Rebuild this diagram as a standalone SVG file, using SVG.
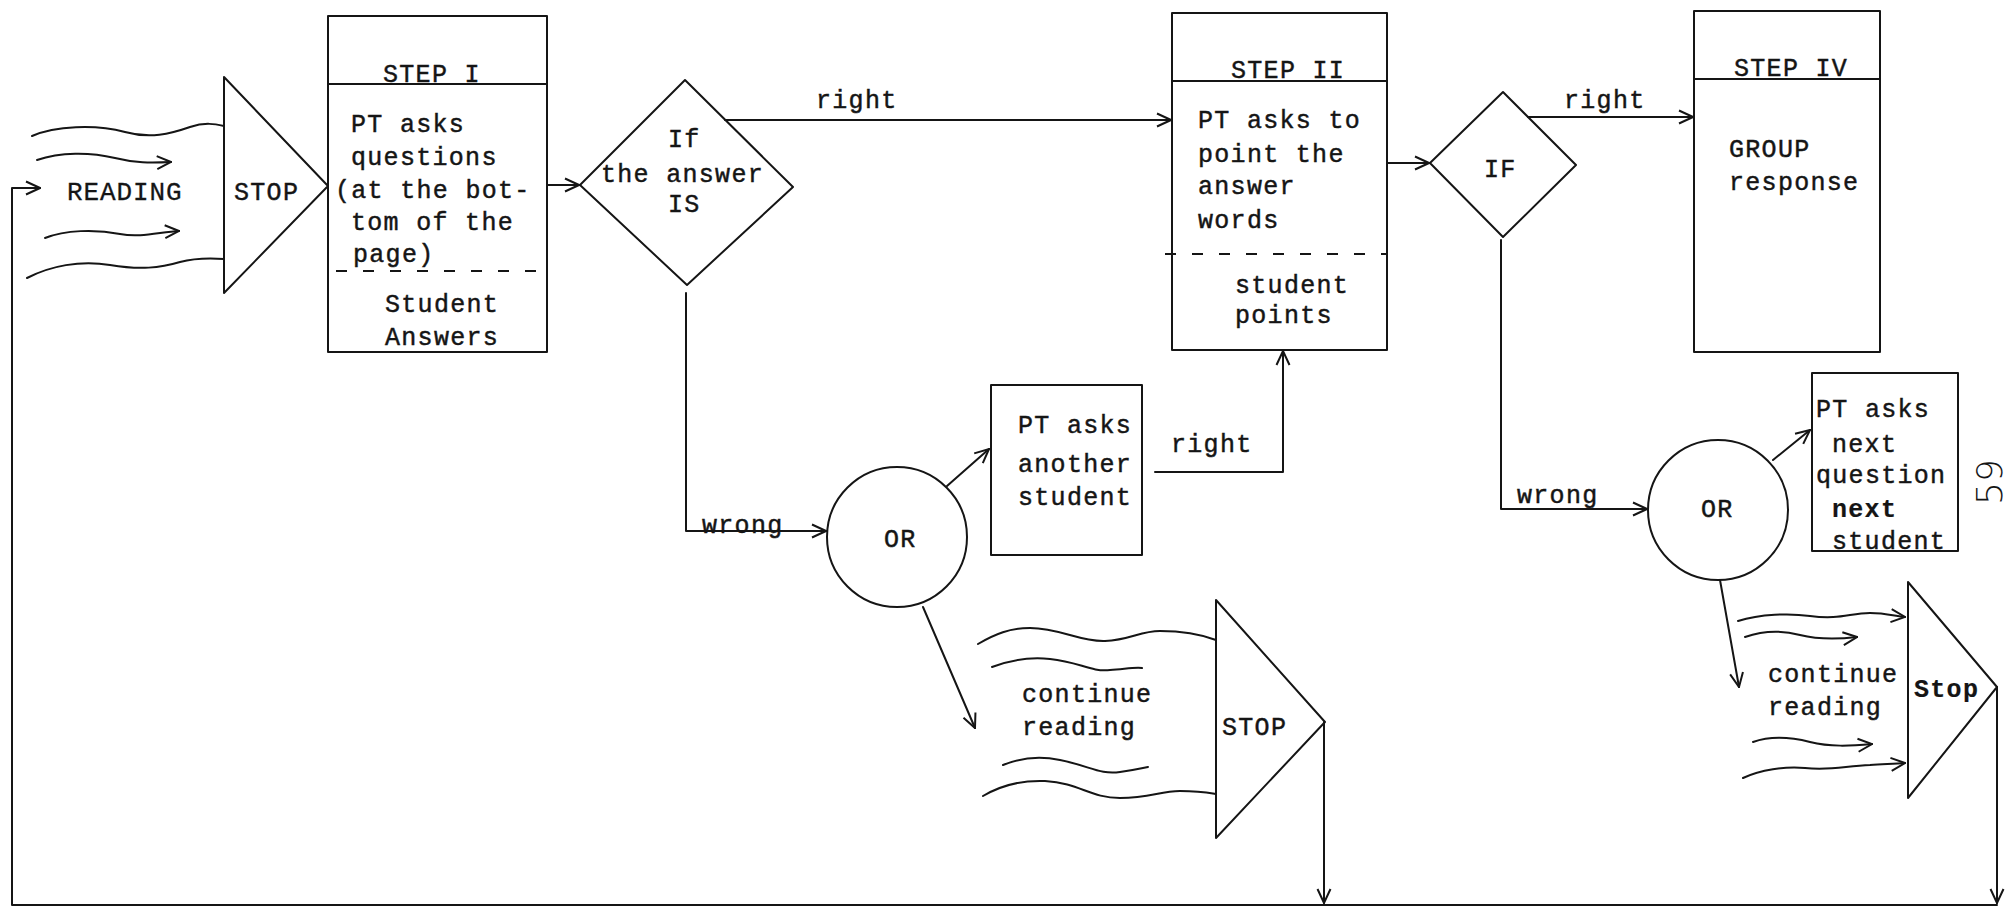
<svg xmlns="http://www.w3.org/2000/svg" width="2014" height="909" viewBox="0 0 2014 909">
<defs>
<style>
.ln{fill:none;stroke:#151515;stroke-width:2;stroke-linejoin:round;stroke-linecap:round}
.dash{fill:none;stroke:#151515;stroke-width:2.2;stroke-dasharray:11 16}
.t{font-family:"Liberation Mono","Courier New",monospace;font-size:25px;letter-spacing:1.3px;fill:#151515;stroke:#151515;stroke-width:0.45px}
.b{font-weight:bold;stroke-width:0.2px}
.big{font-size:26px;letter-spacing:0.9px;stroke-width:0.3px}
.hand{font-family:"DejaVu Sans",sans-serif;font-size:36px;font-weight:300;fill:#151515}
</style>
<marker id="arr" viewBox="0 0 16 16" refX="15" refY="8" markerWidth="16" markerHeight="16" markerUnits="userSpaceOnUse" orient="auto">
<path d="M1,1.5 L15,8 L1,14.5" fill="none" stroke="#151515" stroke-width="2"/>
</marker>
</defs>
<rect width="2014" height="909" fill="#fff"/>

<g id="connectors">
<path class="ln" d="M1997,905 L12,905 L12,188 L40,188" marker-end="url(#arr)"/>
<path class="ln" d="M1324,722 L1324,903" marker-end="url(#arr)"/>
<path class="ln" d="M1997,687 L1997,903" marker-end="url(#arr)"/>
<path class="ln" d="M547,185 L579,185" marker-end="url(#arr)"/>
<path class="ln" d="M725,120 L1171,120" marker-end="url(#arr)"/>
<path class="ln" d="M686,293 L686,531 L826,531" marker-end="url(#arr)"/>
<path class="ln" d="M947,486 L989,449" marker-end="url(#arr)"/>
<path class="ln" d="M1155,472 L1283,472 L1283,351" marker-end="url(#arr)"/>
<path class="ln" d="M923,607 L975,728" marker-end="url(#arr)"/>
<path class="ln" d="M1387,163 L1429,163" marker-end="url(#arr)"/>
<path class="ln" d="M1528,117 L1693,117" marker-end="url(#arr)"/>
<path class="ln" d="M1501,240 L1501,509 L1647,509" marker-end="url(#arr)"/>
<path class="ln" d="M1773,460 L1810,430" marker-end="url(#arr)"/>
<path class="ln" d="M1720,580 L1739,687" marker-end="url(#arr)"/>
<text class="t" x="816" y="108">right</text>
<text class="t" x="702" y="533">wrong</text>
<text class="t" x="1171" y="452">right</text>
<text class="t" x="1564" y="108">right</text>
<text class="t" x="1517" y="503">wrong</text>
</g>

<g id="reading">
<path class="ln" d="M32,136 C55,126 95,124 125,132 C150,139 170,134 190,127 C205,122 215,124 224,126"/>
<path class="ln" d="M37,160 C60,152 90,152 115,158 C135,163 150,163 171,162" marker-end="url(#arr)"/>
<path class="ln" d="M45,238 C65,230 95,229 120,234 C140,238 160,232 179,231" marker-end="url(#arr)"/>
<path class="ln" d="M27,278 C50,266 80,260 110,265 C140,270 160,268 180,262 C195,258 210,258 224,259"/>
<text class="t big" x="67" y="200">READING</text>
</g>

<g id="stop1">
<path class="ln" d="M224,77 L224,293 L328,186 Z"/>
<text class="t" x="234" y="200">STOP</text>
</g>

<g id="step1">
<rect class="ln" x="328" y="16" width="219" height="336"/>
<line class="ln" x1="328" y1="84" x2="547" y2="84"/>
<line class="dash" x1="336" y1="271" x2="547" y2="271"/>
<text class="t" x="383" y="82">STEP I</text>
<text class="t" x="351" y="132">PT asks</text>
<text class="t" x="351" y="165">questions</text>
<text class="t" x="335" y="198">(at the bot-</text>
<text class="t" x="351" y="230">tom of the</text>
<text class="t" x="353" y="262">page)</text>
<text class="t" x="385" y="312">Student</text>
<text class="t" x="385" y="345">Answers</text>
</g>

<g id="decision1">
<path class="ln" d="M685,80 L793,187 L687,285 L580,185 Z"/>
<text class="t" x="668" y="147">If</text>
<text class="t" x="601" y="182">the answer</text>
<text class="t" x="668" y="212">IS</text>
</g>

<g id="or1">
<circle class="ln" cx="897" cy="537" r="70"/>
<text class="t" x="884" y="547">OR</text>
</g>

<g id="another">
<rect class="ln" x="991" y="385" width="151" height="170"/>
<text class="t" x="1018" y="433">PT asks</text>
<text class="t" x="1018" y="472">another</text>
<text class="t" x="1018" y="505">student</text>
</g>

<g id="continue1">
<path class="ln" d="M978,644 C995,634 1010,628 1030,628 C1060,628 1080,642 1105,641 C1130,640 1140,631 1160,631 C1185,631 1200,634 1216,640"/>
<path class="ln" d="M992,667 C1010,660 1030,657 1050,659 C1080,662 1090,672 1110,670 C1125,669 1135,667 1142,668"/>
<path class="ln" d="M1003,765 C1020,758 1040,756 1060,760 C1090,766 1100,775 1120,772 C1135,770 1142,768 1148,767"/>
<path class="ln" d="M983,796 C1000,786 1020,780 1045,781 C1080,783 1090,798 1120,798 C1150,798 1160,791 1180,791 C1200,791 1210,793 1216,794"/>
<text class="t" x="1022" y="702">continue</text>
<text class="t" x="1022" y="735">reading</text>
</g>

<g id="stop2">
<path class="ln" d="M1216,600 L1216,838 L1325,722 Z"/>
<text class="t" x="1222" y="735">STOP</text>
</g>

<g id="step2">
<rect class="ln" x="1172" y="13" width="215" height="337"/>
<line class="ln" x1="1172" y1="81" x2="1387" y2="81"/>
<line class="dash" x1="1165" y1="254" x2="1387" y2="254"/>
<text class="t" x="1231" y="78">STEP II</text>
<text class="t" x="1198" y="128">PT asks to</text>
<text class="t" x="1198" y="162">point the</text>
<text class="t" x="1198" y="194">answer</text>
<text class="t" x="1198" y="228">words</text>
<text class="t" x="1235" y="293">student</text>
<text class="t" x="1235" y="323">points</text>
</g>

<g id="decision2">
<path class="ln" d="M1503,92 L1576,165 L1503,237 L1430,163 Z"/>
<text class="t" x="1484" y="177">IF</text>
</g>

<g id="step4">
<rect class="ln" x="1694" y="11" width="186" height="341"/>
<line class="ln" x1="1694" y1="79" x2="1880" y2="79"/>
<text class="t" x="1734" y="76">STEP IV</text>
<text class="t" x="1729" y="157">GROUP</text>
<text class="t" x="1729" y="190">response</text>
</g>

<g id="or2">
<circle class="ln" cx="1718" cy="510" r="70"/>
<text class="t" x="1701" y="517">OR</text>
</g>

<g id="next">
<rect class="ln" x="1812" y="373" width="146" height="178"/>
<text class="t" x="1816" y="417">PT asks</text>
<text class="t" x="1832" y="452">next</text>
<text class="t" x="1816" y="483">question</text>
<text class="t b" x="1832" y="517">next</text>
<text class="t" x="1832" y="549">student</text>
</g>

<g id="continue2">
<path class="ln" d="M1738,621 C1760,614 1790,613 1810,616 C1840,620 1850,613 1870,613 C1885,613 1895,616 1905,617" marker-end="url(#arr)"/>
<path class="ln" d="M1745,637 C1765,630 1785,631 1800,635 C1820,640 1840,639 1857,637" marker-end="url(#arr)"/>
<path class="ln" d="M1753,742 C1770,736 1790,737 1810,742 C1830,747 1850,746 1872,744" marker-end="url(#arr)"/>
<path class="ln" d="M1743,778 C1760,770 1785,766 1805,768 C1830,771 1845,766 1870,765 C1885,764 1895,764 1905,763" marker-end="url(#arr)"/>
<text class="t" x="1768" y="682">continue</text>
<text class="t" x="1768" y="715">reading</text>
</g>

<g id="stop3">
<path class="ln" d="M1908,582 L1908,798 L1997,687 Z"/>
<text class="t b" x="1914" y="697">Stop</text>
</g>

<text class="hand" x="0" y="0" transform="translate(2002,505) rotate(-90)">59</text>
</svg>
